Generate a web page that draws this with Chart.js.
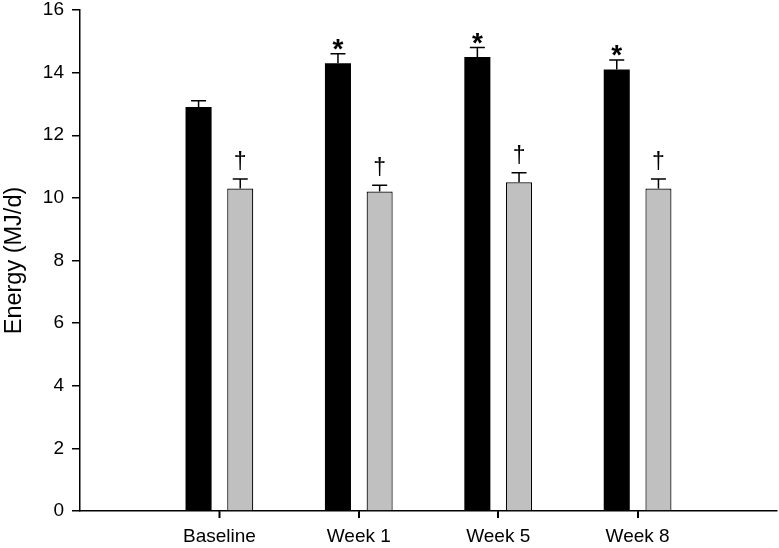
<!DOCTYPE html>
<html lang="en">
<head>
<meta charset="UTF-8">
<title>Energy</title>
<script src="https://cdn.jsdelivr.net/npm/chart.js"></script>
<style>
  html, body { margin: 0; padding: 0; background: #fff; }
  #box { width: 779px; height: 548px; }
</style>
</head>
<body>
<div id="box"><canvas id="myChart"></canvas></div>
<script>
  // data
  const categorias = ['Baseline', 'Week 1', 'Week 5', 'Week 8']
  const serieA = [12.9, 14.3, 14.5, 14.1]      // black bars
  const erroA = [0.2, 0.3, 0.3, 0.3]
  const serieB = [10.3, 10.2, 10.5, 10.3]      // grey bars
  const erroB = [0.3, 0.2, 0.3, 0.3]
  const marcaA = ['', '*', '*', '*']
  const marcaB = ['\u2020', '\u2020', '\u2020', '\u2020']
  const yTicks = [0, 2, 4, 6, 8, 10, 12, 14, 16]

  // empty slot at each end, like the original axis
  const labels = [''].concat(categorias, [''])
  const pad = arr => [null].concat(arr, [null])

  const fonte = 'Liberation Sans, Arial, sans-serif'

  // error bars (upper half only) + significance marks
  const barrasErro = {
    id: 'barrasErro',
    afterDatasetsDraw(chart) {
      const ctx = chart.ctx
      const y = chart.scales.y
      const grupos = [[serieA, erroA, marcaA, 'bold 28px ' + fonte, -4],
                      [serieB, erroB, marcaB, '23px ' + fonte, 10]]
      ctx.save()
      grupos.forEach((g, d) => {
        const meta = chart.getDatasetMeta(d)
        g[0].forEach((v, i) => {
          const bar = meta.data[i + 1]
          const yTop = y.getPixelForValue(v)
          const yErr = y.getPixelForValue(v + g[1][i])
          ctx.strokeStyle = '#000'
          ctx.lineWidth = 1.5
          ctx.beginPath()
          ctx.moveTo(bar.x, yTop)
          ctx.lineTo(bar.x, yErr)
          ctx.moveTo(bar.x - 7.5, yErr)
          ctx.lineTo(bar.x + 7.5, yErr)
          ctx.stroke()
          if (g[2][i]) {
            ctx.fillStyle = '#000'
            ctx.font = g[3]
            ctx.textAlign = 'center'
            ctx.textBaseline = 'alphabetic'
            ctx.fillText(g[2][i], bar.x, yErr - g[4])
          }
        })
      })
      ctx.restore()
    },
    // tick marks under the category labels
    afterDraw(chart) {
      const ctx = chart.ctx
      const x = chart.scales.x
      ctx.save()
      ctx.strokeStyle = '#000'
      ctx.lineWidth = 1.5
      ctx.beginPath()
      x.ticks.forEach((t, i) => {
        const px = Math.round(x.getPixelForTick(i)) + 0.25
        ctx.moveTo(px, x.top)
        ctx.lineTo(px, x.top + 7)
      })
      ctx.stroke()
      ctx.restore()
    }
  }

  const ctx = document.getElementById('myChart')
  new Chart(ctx, {
    type: 'bar',
    data: {
      labels: labels,
      datasets: [{
        data: pad(serieA),
        backgroundColor: '#000',
        borderColor: '#000',
        borderWidth: 0,
        categoryPercentage: 0.598,
        barPercentage: 0.625
      }, {
        data: pad(serieB),
        backgroundColor: '#c0c0c0',
        borderColor: '#000',
        borderWidth: 1.2,
        categoryPercentage: 0.598,
        barPercentage: 0.625
      }]
    },
    options: {
      responsive: true,
      maintainAspectRatio: false,
      animation: false,
      layout: { padding: { top: 10, right: 2, left: 0, bottom: 0 } },
      plugins: { legend: { display: false }, tooltip: { enabled: false } },
      scales: {
        x: {
          offset: false,
          afterFit: s => { s.height = 37; s.paddingLeft = 0; s.paddingRight = 0 },
          afterBuildTicks: s => { s.ticks = s.ticks.filter(t => t.value >= 1 && t.value <= 4) },
          border: { color: '#000', width: 1.5 },
          grid: { offset: false, drawOnChartArea: false, color: '#000', lineWidth: 1.5, tickLength: 7 },
          ticks: { color: '#000', font: { family: fonte, size: 19 }, padding: 7, maxRotation: 0, autoSkip: false }
        },
        y: {
          min: 0,
          max: 16,
          afterFit: s => { s.width = 80; s.paddingTop = 0; s.paddingBottom = 0 },
          afterBuildTicks: s => { s.ticks = yTicks.map(v => ({ value: v })) },
          border: { color: '#000', width: 1.5 },
          grid: { drawOnChartArea: false, color: '#000', lineWidth: 1.5, tickLength: 8 },
          ticks: { color: '#000', font: { family: fonte, size: 19 }, padding: 8 },
          title: { display: true, text: 'Energy (MJ/d)', color: '#000', font: { family: fonte, size: 23.5 }, padding: 0 }
        }
      }
    },
    plugins: [barrasErro]
  })
</script>
</body>
</html>
